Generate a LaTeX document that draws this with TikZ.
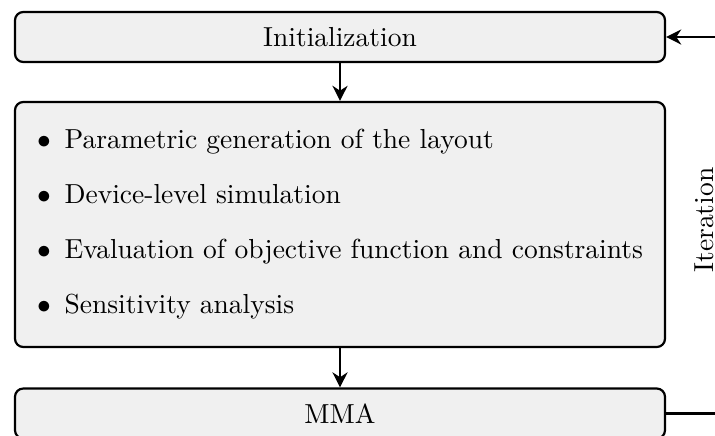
\documentclass[tikz,border=0pt]{standalone}
\usetikzlibrary{arrows.meta}
\begin{document}
\begin{tikzpicture}[x=0.3636pt,y=-0.3636pt,
  box/.style={draw=black, fill=black!6, line width=0.8pt, rounded corners=3pt, minimum width=650*0.3636pt, inner sep=0pt},
  conn/.style={line width=0.8pt, -{Stealth[length=5.5pt,width=5.5pt,inset=1.8pt]}}]
\useasboundingbox (0,0) rectangle (715,435);
\node[box, minimum height=50*0.3636pt] (init) at (340,37) {Initialization};
\node[box, minimum height=245*0.3636pt, align=left] (steps) at (340,224.5) {%
$\bullet$\hspace{5pt}Parametric generation of the layout\\[8pt]
$\bullet$\hspace{5pt}Device-level simulation\\[8pt]
$\bullet$\hspace{5pt}Evaluation of objective function and constraints\\[8pt]
$\bullet$\hspace{5pt}Sensitivity analysis};
\node[box, minimum height=50*0.3636pt] (mma) at (340,413.5) {MMA};
\coordinate (c1) at (745,413.5);
\coordinate (c2) at (745,37);
\draw[conn] (init) -- (steps);
\draw[conn] (steps) -- (mma);
\draw[conn] (mma.east) -- (c1) -- (c2) -- (init.east);
\node[rotate=90, inner sep=0pt] (iter) at (704,220) {Iteration};
\end{tikzpicture}
\end{document}
